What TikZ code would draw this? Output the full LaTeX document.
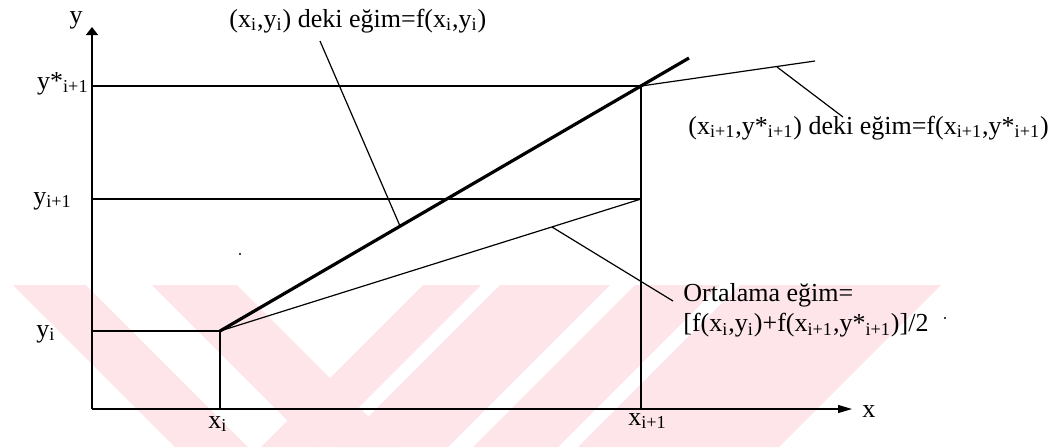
\documentclass[tikz,border=0pt]{standalone}
\usepackage{fontspec}
\setmainfont{Liberation Serif}
\usetikzlibrary{arrows.meta,positioning}
\definecolor{wmpink}{RGB}{253,229,234}

\newcommand{\lo}[1]{\textsubscript{#1}}

\begin{document}
\begin{tikzpicture}[
    x=0.5pt, y=-0.5pt,
    lbl/.style={inner sep=0pt, font=\fontsize{13}{15}\selectfont},
    gridline/.style={line width=0.6pt},
    leader/.style={line width=0.6pt},
    euler/.style={line width=1.6pt},
    xaxis/.style={-{Triangle[length=7pt,width=4pt]}, line width=0.6pt},
    yaxis/.style={-{Triangle[length=4pt,width=6pt]}, line width=0.6pt}
  ]
  \useasboundingbox (0,0) rectangle (1062,447);

  % faint watermark in the background
  \fill[wmpink] (13,285) -- (86,285) -- (248,447) -- (175,447) -- cycle;
  \fill[wmpink] (152,285) -- (237,285) -- (399,447) -- (314,447) -- cycle;
  \fill[wmpink] (423,285) -- (481,285) -- (319,447) -- (261,447) -- cycle;
  \fill[wmpink] (500,285) -- (610,285) -- (448,447) -- (338,447) -- cycle;
  \fill[wmpink] (635,285) -- (720,285) -- (558,447) -- (473,447) -- cycle;
  \fill[wmpink] (740,285) -- (941,285) -- (779,447) -- (578,447) -- cycle;

  % points
  \coordinate (O) at (92,409);
  \coordinate (ytip) at (92,27);
  \coordinate (xtip) at (852,409);
  \coordinate (ystar) at (92,86);
  \coordinate (ynext) at (92,199);
  \coordinate (ycur) at (92,331);
  \coordinate (xcur) at (220,409);
  \coordinate (xnext) at (641,409);
  \coordinate (Pi) at (220,331);
  \coordinate (Pstar) at (641,86);
  \coordinate (Pnext) at (641,199);
  \coordinate (eulerend) at (689,58);
  \coordinate (tanend) at (815,61);
  \coordinate (tanfoot) at (777,67);
  \coordinate (eulerfoot) at (400,226);
  \coordinate (avgfoot) at (552,227);

  % axes
  \draw[yaxis] (O) -- (ytip);
  \draw[xaxis] (O) -- (xtip);

  % levels
  \draw[gridline] (ystar) -- (Pstar);
  \draw[gridline] (ynext) -- (Pnext);
  \draw[gridline] (ycur) -- (Pi);
  \draw[gridline] (xcur) -- (Pi);
  \draw[gridline] (xnext) -- (Pstar);

  % slopes
  \draw[euler] (Pi) -- (eulerend);
  \draw[gridline] (Pi) -- (Pnext);
  \draw[gridline] (Pstar) -- (tanend);

  % labels
  \node[lbl, anchor=base] (ylab) at (76,23) {y};
  \node[lbl, anchor=base west] (xlab) at (862,417) {x};
  \node[lbl, anchor=base east] (ystarlab) at (89,89) {y*\lo{i+1}};
  \node[lbl, anchor=base west] (ynextlab) at (33,204) {y\lo{i+1}};
  \node[lbl, anchor=base west] (ycurlab) at (36,337) {y\lo{i}};
  \node[lbl, anchor=base west] (xcurlab) at (208,428) {x\lo{i}};
  \node[lbl, anchor=base west] (xnextlab) at (628,425) {x\lo{i+1}};

  \node[lbl, anchor=base west] (eulerlab) at (229,27)
    {(x\lo{i},y\lo{i}) deki eğim=f(x\lo{i},y\lo{i})};
  \node[lbl, anchor=base west] (tanlab) at (688,134)
    {(x\lo{i+1},y*\lo{i+1}) deki eğim=f(x\lo{i+1},y*\lo{i+1})};
  \node[lbl, anchor=north west, align=left] (avglab) at (683,283)
    {Ortalama eğim=\\{}[f(x\lo{i},y\lo{i})+f(x\lo{i+1},y*\lo{i+1})]/2};

  % leaders
  \draw[leader] (320,41) -- (eulerfoot);
  \draw[leader] (tanfoot) -- (843,117);
  \draw[leader] (avgfoot) -- (673,301);

  % specks
  \fill (240,254) circle (1.2);
  \fill (945,318) circle (1.2);
\end{tikzpicture}
\end{document}
